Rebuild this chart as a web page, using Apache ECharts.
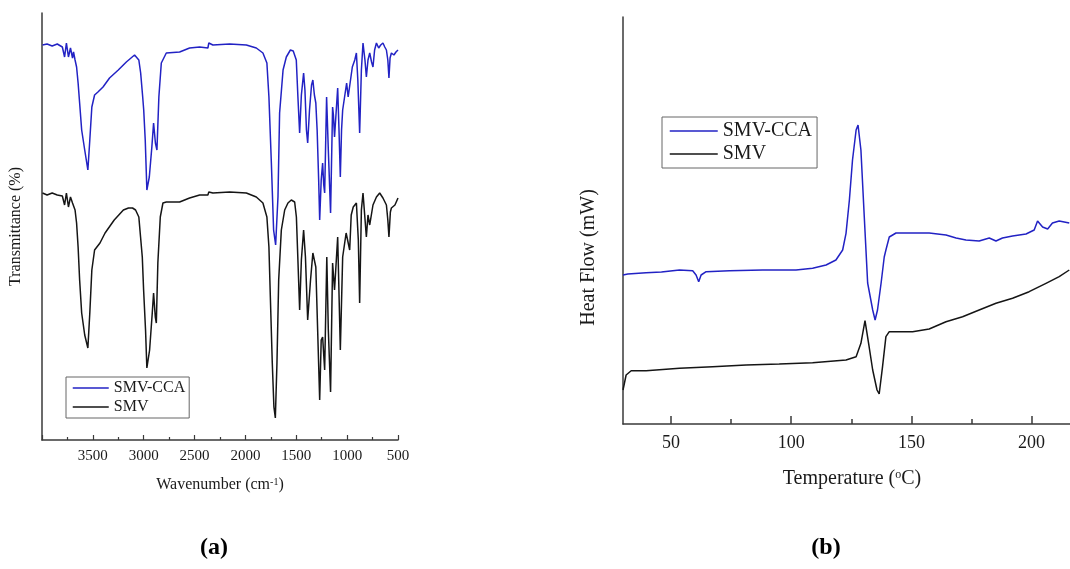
<!DOCTYPE html>
<html><head><meta charset="utf-8">
<script src="https://cdn.jsdelivr.net/npm/echarts@6/dist/echarts.min.js"></script>
<style>html,body{margin:0;padding:0;background:#fff}#c{width:1070px;height:569px}</style>
</head><body><div id="c"></div>
<script>
const FONT = '"Liberation Serif", "Times New Roman", serif';
const seriesNames = ['SMV-CCA', 'SMV'];
const ftirTickLabels = [3500, 3000, 2500, 2000, 1500, 1000, 500];
const dscTickLabels = [50, 100, 150, 200];
const dscMinorTicks = [75, 125, 175];

// FTIR: [wavenumber cm-1, transmittance (a.u.)]
const ftirSmvCca = [[3995,395],[3950,396],[3900,394],[3850,396],[3800,393],[3778,383],[3760,397],[3740,383],[3720,392],[3700,382],[3690,388],[3675,380],[3660,373],[3645,357],[3630,337],[3610,310],[3580,290],[3549,270],[3530,300],[3510,333],[3483,345],[3450,348],[3400,353],[3336,362],[3250,370],[3171,378],[3090,385],[3048,380],[3030,367],[3010,343],[3000,330],[2985,300],[2969,250],[2945,263],[2920,293],[2903,317],[2885,297],[2870,290],[2851,343],[2827,377],[2778,387],[2647,388],[2549,392],[2450,393],[2369,392],[2360,397],[2320,395],[2155,396],[1991,395],[1893,392],[1828,387],[1789,377],[1769,343],[1745,277],[1723,210],[1703,195],[1680,243],[1664,327],[1630,370],[1598,383],[1558,390],[1530,389],[1516,388],[1500,380],[1484,343],[1467,307],[1450,345],[1428,367],[1415,350],[1400,310],[1388,297],[1370,330],[1350,355],[1337,360],[1322,345],[1308,337],[1295,310],[1280,260],[1270,220],[1255,260],[1241,277],[1230,255],[1221,247],[1202,343],[1185,290],[1163,227],[1143,333],[1135,325],[1124,303],[1093,352],[1080,310],[1067,263],[1055,310],[1044,330],[1005,357],[990,343],[975,343],[960,365],[949,373],[925,380],[909,387],[895,360],[877,307],[860,370],[844,397],[825,380],[811,363],[795,380],[778,387],[760,378],[746,373],[730,390],[712,397],[690,392],[670,395],[648,397],[630,393],[614,390],[600,380],[589,362],[578,382],[565,387],[540,385],[520,388],[500,390]];
const ftirSmv = [[3995,247],[3950,245],[3900,247],[3850,245],[3800,244],[3778,235],[3760,247],[3740,233],[3720,243],[3700,237],[3690,238],[3675,230],[3660,217],[3645,193],[3630,160],[3610,127],[3580,105],[3549,92],[3530,127],[3510,170],[3483,190],[3430,197],[3380,207],[3290,220],[3200,230],[3150,232],[3110,232],[3080,230],[3048,223],[3031,203],[3014,183],[3001,150],[2982,110],[2969,72],[2942,90],[2916,127],[2903,147],[2886,123],[2876,117],[2861,177],[2837,223],[2811,237],[2778,238],[2647,238],[2549,242],[2450,245],[2369,245],[2360,248],[2320,247],[2155,248],[1991,247],[1893,243],[1828,237],[1789,223],[1769,193],[1755,143],[1736,77],[1720,33],[1706,22],[1690,77],[1673,160],[1647,210],[1614,230],[1582,237],[1549,240],[1516,238],[1499,223],[1483,177],[1467,130],[1450,180],[1428,210],[1410,183],[1388,120],[1360,160],[1337,187],[1308,173],[1290,110],[1270,40],[1255,100],[1241,103],[1221,70],[1200,183],[1185,110],[1163,48],[1143,177],[1124,150],[1093,203],[1067,90],[1044,183],[1010,207],[975,190],[960,225],[940,233],[909,237],[890,200],[877,137],[860,230],[844,247],[811,203],[795,225],[778,215],[746,235],[712,243],[680,247],[648,242],[630,240],[614,235],[600,220],[589,203],[575,228],[565,232],[530,235],[500,242]];

// DSC: [temperature degC, heat flow (a.u.)]
const dscSmvCca = [[30,149],[32,150],[39.6,151.3],[46,152],[53.5,154],[59,153.3],[60.4,149],[61.5,142.3],[62.5,149],[64.6,152.3],[74.3,153.3],[88.1,154],[102,154],[108.9,155.7],[114.5,159],[118.6,164],[121.4,174],[122.8,190.7],[124.2,224],[125.5,264],[127,294],[127.8,299],[129,274],[130.4,207],[131.8,141],[133.9,114],[134.9,104],[135.9,114],[137.4,141],[138.7,167],[139.4,174],[140.8,187],[143.6,191],[150.5,191],[157.4,191],[164.4,189],[168.6,186],[172.7,184],[178.2,183],[182.4,186],[185.2,183],[187.9,186],[192.1,188],[197.7,190],[201.1,194],[202.5,203],[204.6,197],[206.7,195],[208.7,201],[211.5,203],[215.7,201]];
const dscSmv = [[30,34],[31.3,49],[33.4,53.3],[39.6,53.3],[53.5,55.7],[67.3,57.3],[81.2,59],[95,60],[108.9,61.3],[122.8,64],[127,67.3],[129,80.7],[130.7,103.3],[132.2,80.7],[133.9,54],[135.7,34],[136.6,30],[138,57.3],[139.4,87.3],[140.8,92.3],[150.5,92.3],[157.4,95],[164.4,102.3],[171.3,107.3],[178.2,114],[185.2,120.7],[192.1,125.7],[199,132.3],[206,140.7],[211.5,147.3],[215.7,154]];

const BLUE = '#2222c4', BLACK = '#151515', AXIS = '#3a3a3a', TXT = '#1a1a1a';
const chart = echarts.init(document.getElementById('c'), null, {renderer: 'canvas'});

function lineSeries(name, data, color, xi, yi) {
  return {name, type: 'line', data, xAxisIndex: xi, yAxisIndex: yi, symbol: 'none', showSymbol: false,
    smooth: false, sampling: false, animation: false, lineStyle: {color, width: 1.5}, itemStyle: {color}};
}
const axisLine = {show: true, onZero: false, lineStyle: {color: AXIS, width: 1.5}};

chart.setOption({
  animation: false,
  backgroundColor: '#fff',
  grid: [
    {left: 42, top: 13, width: 356, height: 427, outerBoundsMode: 'none', containLabel: false},
    {left: 623, top: 17, width: 447, height: 407, outerBoundsMode: 'none', containLabel: false}
  ],
  legend: [
    {data: seriesNames, orient: 'vertical', left: 66, top: 377, itemWidth: 36, itemHeight: 16, itemGap: 3,
     padding: [3, 4, 3, 6], borderColor: '#666', borderWidth: 1, backgroundColor: '#fff', selectedMode: false,
     itemStyle: {opacity: 0}, lineStyle: {width: 1.5},
     textStyle: {fontFamily: FONT, fontSize: 16, color: TXT}},
    {data: seriesNames, orient: 'vertical', left: 662, top: 117, itemWidth: 48, itemHeight: 20, itemGap: 3,
     padding: [4, 5, 4, 7], borderColor: '#666', borderWidth: 1, backgroundColor: '#fff', selectedMode: false,
     itemStyle: {opacity: 0}, lineStyle: {width: 1.5},
     textStyle: {fontFamily: FONT, fontSize: 20, color: TXT}}
  ],
  xAxis: [
    {type: 'value', gridIndex: 0, min: 500, max: 4000, interval: 500, inverse: true, position: 'bottom',
     axisLine, splitLine: {show: false},
     axisTick: {show: true, inside: true, length: 5, lineStyle: {color: AXIS, width: 1.2}},
     minorTick: {show: true, splitNumber: 2, length: 3, lineStyle: {color: AXIS, width: 1.2}},
     axisLabel: {margin: 9, fontFamily: FONT, fontSize: 15, color: TXT,
       formatter: v => ftirTickLabels.includes(v) ? String(v) : ''},
     name: 'Wavenumber (cm{sup|-1})', nameLocation: 'middle', nameGap: 37,
     nameTextStyle: {fontFamily: FONT, fontSize: 16, color: TXT,
       rich: {sup: {fontFamily: FONT, fontSize: 10, color: TXT, verticalAlign: 'top', padding: [0, 0, 6, 0]}}}},
    {type: 'value', gridIndex: 1, min: 30, max: 216, position: 'bottom',
     axisLine, splitLine: {show: false},
     axisTick: {show: true, inside: true, length: 8, customValues: dscTickLabels, lineStyle: {color: AXIS, width: 1.5}},
     axisLabel: {margin: 10, fontFamily: FONT, fontSize: 18, color: TXT, customValues: dscTickLabels},
     name: 'Temperature ({sup|o}C)', nameLocation: 'middle', nameGap: 45,
     nameTextStyle: {fontFamily: FONT, fontSize: 20, color: TXT, padding: [0, 0, 0, 11],
       rich: {sup: {fontFamily: FONT, fontSize: 12, color: TXT, verticalAlign: 'top', padding: [0, 0, 8, 0]}}}},
    {type: 'value', gridIndex: 1, min: 30, max: 216, position: 'bottom',
     axisLine: {show: false}, splitLine: {show: false}, axisLabel: {show: false},
     axisTick: {show: true, inside: true, length: 5, customValues: dscMinorTicks, lineStyle: {color: AXIS, width: 1.5}}}
  ],
  yAxis: [
    {type: 'value', gridIndex: 0, min: 0, max: 427, axisLine, axisTick: {show: false}, axisLabel: {show: false},
     splitLine: {show: false}, name: 'Transmittance (%)', nameLocation: 'middle', nameGap: 18,
     nameTextStyle: {fontFamily: FONT, fontSize: 16, color: TXT}},
    {type: 'value', gridIndex: 1, min: 0, max: 407, axisLine, axisTick: {show: false}, axisLabel: {show: false},
     splitLine: {show: false}, name: 'Heat Flow (mW)', nameLocation: 'middle', nameGap: 24,
     nameTextStyle: {fontFamily: FONT, fontSize: 20, color: TXT, padding: [0, 74, 0, 0]}}
  ],
  series: [
    lineSeries(seriesNames[0], ftirSmvCca, BLUE, 0, 0),
    lineSeries(seriesNames[1], ftirSmv, BLACK, 0, 0),
    lineSeries(seriesNames[0], dscSmvCca, BLUE, 1, 1),
    lineSeries(seriesNames[1], dscSmv, BLACK, 1, 1)
  ],
  graphic: [
    {type: 'text', x: 214, y: 548, style: {text: '(a)', font: 'bold 24px "Liberation Serif"', fill: '#000', align: 'center', verticalAlign: 'middle'}},
    {type: 'text', x: 826, y: 548, style: {text: '(b)', font: 'bold 24px "Liberation Serif"', fill: '#000', align: 'center', verticalAlign: 'middle'}}
  ]
});
</script></body></html>
